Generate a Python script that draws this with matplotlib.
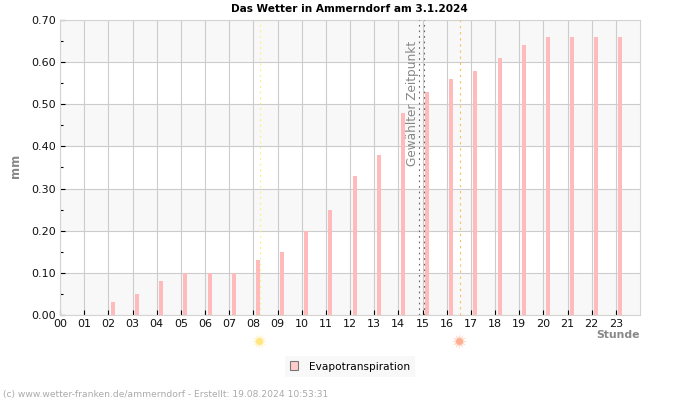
import matplotlib
matplotlib.use("Agg")
import matplotlib.pyplot as plt
from matplotlib.patches import Patch
from matplotlib.ticker import MultipleLocator

hours = list(range(24))
hour_labels = [f"{h:02d}" for h in hours]
evapo = [0, 0, 0.03, 0.05, 0.08, 0.10, 0.10, 0.10, 0.13, 0.15, 0.20, 0.25,
         0.33, 0.38, 0.48, 0.53, 0.56, 0.58, 0.61, 0.64, 0.66, 0.66, 0.66, 0.66]
y_major = [0.0, 0.1, 0.2, 0.3, 0.4, 0.5, 0.6, 0.7]
band_low = [0.0, 0.2, 0.4, 0.6]
sunrise = 8.29
sunset = 16.56
selected = [14.87, 15.07]

W, H = 700, 400
fig = plt.figure(figsize=(7, 4), dpi=100, facecolor="white")
L, R, T, B = 60, 640, 20, 315
ax = fig.add_axes([L / W, 1 - B / H, (R - L) / W, (B - T) / H])
ax.set_xlim(0, 24)
ax.set_ylim(0, 0.7)

for b in band_low:
    ax.axhspan(b, b + 0.1, color="#f8f8f8", lw=0, zorder=0)
ax.grid(True, which="major", color="#cccccc", lw=0.8, zorder=1)
ax.set_axisbelow(True)

ax.bar([h + 0.19 for h in hours], evapo, width=0.17, color="#ffbbbb", lw=0, zorder=3)

ax.axvline(sunrise, color="#ffee66", lw=0.8, ls=(0, (1.5, 3.5)), zorder=4)
ax.axvline(sunset, color="#ffbb55", lw=0.8, ls=(0, (2, 3.5)), zorder=4)
for s in selected:
    ax.axvline(s, color="#666666", lw=0.8, ls=(0, (1.5, 3.5)), zorder=4)

ax.text(14.58, 0.3525, "Gewählter Zeitpunkt", rotation=90, color="#888888",
        fontsize=8.75, ha="center", va="bottom", zorder=5)

ax.set_xticks(hours)
ax.set_xticklabels(hour_labels)
ax.set_yticks(y_major)
ax.set_yticklabels([f"{v:.2f}" for v in y_major])
ax.yaxis.set_minor_locator(MultipleLocator(0.05))
ax.tick_params(axis="both", which="major", direction="in", length=3.6, width=0.8,
               color="black", labelsize=8, labelcolor="#111111", pad=3)
ax.tick_params(axis="y", which="minor", direction="in", length=1.8, width=0.8, color="black")
for sp in ax.spines.values():
    sp.set_color("#d4d4d4")
    sp.set_linewidth(0.8)

fig.text(349 / W, 1 - 9 / H, "Das Wetter in Ammerndorf am 3.1.2024", fontsize=7.55,
         fontweight="bold", ha="center", va="center", color="black")
fig.text(15 / W, 1 - 166 / H, "mm", rotation=90, fontsize=8.3, fontweight="bold",
         color="#888888", ha="center", va="center")
fig.text(639.5 / W, 1 - 334.5 / H, "Stunde", fontsize=7.8, fontweight="bold",
         color="#888888", ha="right", va="center")
fig.text(3 / W, 1 - 394 / H, "(c) www.wetter-franken.de/ammerndorf - Erstellt: 19.08.2024 10:53:31",
         fontsize=6.6, color="#aaaaaa", ha="left", va="center")

# sun symbols below the axis
for hour, col in ((sunrise, "#ffe680"), (sunset, "#ffae8f")):
    x_pos = hour - 0.07
    ax.plot([x_pos], [-0.0625], marker=(12, 1, 0), ms=11, color=col, alpha=0.45,
            mew=0, clip_on=False, zorder=6)
    ax.plot([x_pos], [-0.0625], marker="o", ms=5, color=col, mew=0, clip_on=False, zorder=7)

leg = fig.legend(handles=[Patch(facecolor="#ffcccc", edgecolor="#777777", lw=0.8,
                                label="Evapotranspiration")],
                 loc="center", bbox_to_anchor=(350 / W, 1 - 366.5 / H),
                 fontsize=7.6, frameon=True, fancybox=False, framealpha=1,
                 facecolor="#f8f8f8", edgecolor="#f8f8f8",
                 handlelength=0.8, handleheight=0.9, handletextpad=1.0,
                 borderpad=0.5, borderaxespad=0)
leg.get_frame().set_linewidth(0)

fig.savefig("out.png", dpi=100)
